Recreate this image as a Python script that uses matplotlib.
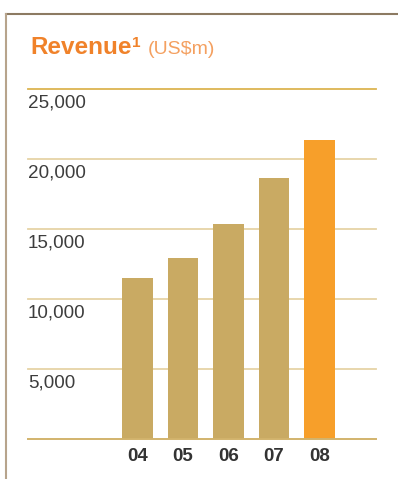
import matplotlib.pyplot as plt
import numpy as np

plt.rcParams['font.family'] = ['Liberation Sans', 'DejaVu Sans']

years = ["04", "05", "06", "07", "08"]
revenue = [11460, 12890, 15330, 18630, 21360]  # US$m
yticks = [5000, 10000, 15000, 20000, 25000]
ytick_labels = ["5,000", "10,000", "15,000", "20,000", "25,000"]

gold = "#c9aa63"
orange = "#f79f2a"
colors = [gold] * 4 + [orange]

fig = plt.figure(figsize=(3.98, 4.79), dpi=100)
ax = fig.add_axes([0.0704, 0.0841, 0.8744, 0.7309])

x = np.arange(len(years))
ax.bar(x, revenue, width=0.68, color=colors, zorder=3)

ax.set_xlim(-2.407, 5.242)
ax.set_ylim(0, 25000)

# horizontal rules with value labels sitting just under each one
for v, lab in zip(yticks, ytick_labels):
    lc = "#dcb450" if v == 25000 else "#e6d3a6"
    ax.axhline(v, color=lc, lw=1.3, zorder=1, clip_on=False)
    ax.annotate(lab, xy=(-2.407, v), xytext=(0, -4), textcoords="offset points",
                ha="left", va="top", fontsize=13.6, color="#3d3d3d")
ax.axhline(0, color="#d2b36c", lw=1.4, zorder=4, clip_on=False)

ax.set_xticks(x, years)
ax.set_yticks([])
ax.tick_params(axis="x", length=0, pad=7, labelsize=13.5, labelcolor="#333333")
for t in ax.get_xticklabels():
    t.set_fontweight("bold")
for s in ax.spines.values():
    s.set_visible(False)

# outer frame: top and left edges
fig.add_artist(plt.Line2D([6 / 398, 1], [1 - 13.5 / 479] * 2, color="#8c7a62", lw=1.5))
fig.add_artist(plt.Line2D([6 / 398] * 2, [0, 1 - 13.5 / 479], color="#b7a48c", lw=1.5))

# title built from three pieces on one baseline
base_y = 1 - 54 / 479
t1 = fig.text(30 / 398, base_y, "Revenue", fontsize=17.5, fontweight="bold",
              color="#f0822a", va="baseline")
fig.canvas.draw()
r = fig.canvas.get_renderer()
x1 = t1.get_window_extent(r).x1 / fig.bbox.width
t2 = fig.text(x1 + 0.5 / 398, base_y + 7 / 479, "1", fontsize=11, fontweight="bold",
              color="#f0822a", va="baseline")
x2 = t2.get_window_extent(r).x1 / fig.bbox.width
fig.text(x2 + 7 / 398, base_y, "(US$m)", fontsize=14, color="#f4a060", va="baseline")

fig.savefig("out.png", dpi=100, facecolor="white")
